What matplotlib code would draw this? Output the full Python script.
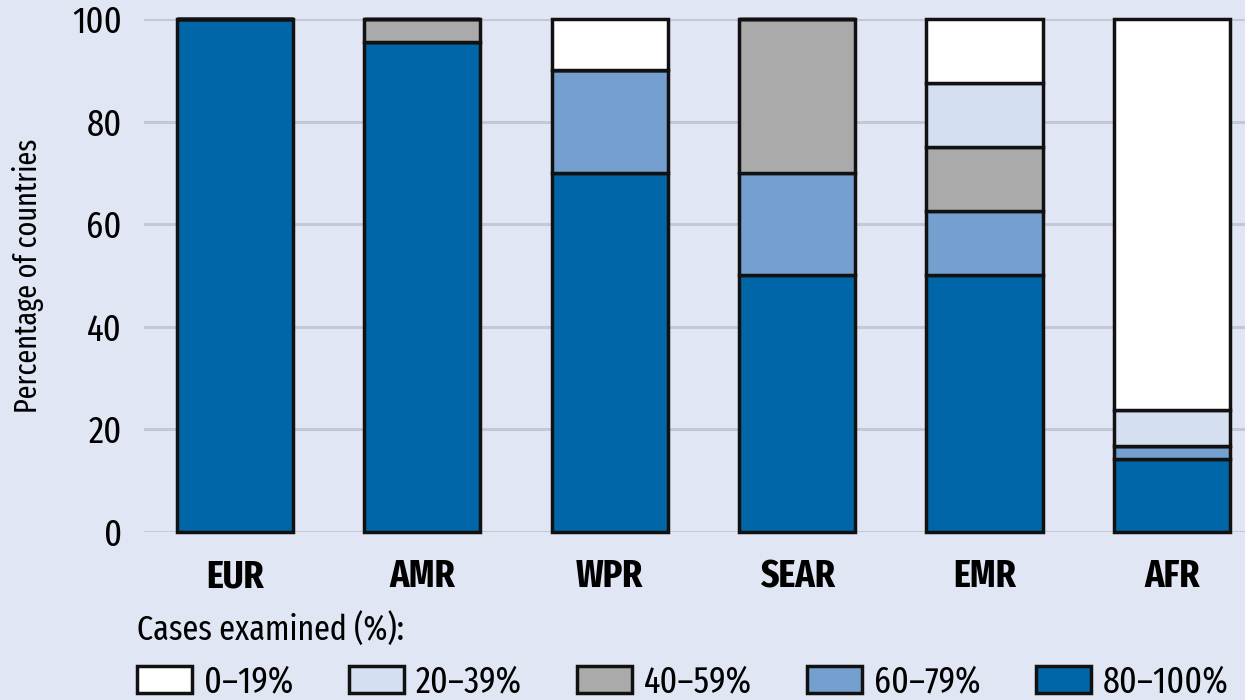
import numpy as np
import matplotlib.pyplot as plt

regions = ['EUR', 'AMR', 'WPR', 'SEAR', 'EMR', 'AFR']
bands = ['80–100%', '60–79%', '40–59%', '20–39%', '0–19%']
# percentage of countries in each band, bottom (80-100%) to top (0-19%)
pct_80_100 = [100.0, 95.5, 70.0, 50.0, 50.0, 14.3]
pct_60_79 = [0.0, 0.0, 20.0, 20.0, 12.5, 2.4]
pct_40_59 = [0.0, 4.5, 0.0, 30.0, 12.5, 0.0]
pct_20_39 = [0.0, 0.0, 0.0, 0.0, 12.5, 7.1]
pct_0_19 = [0.0, 0.0, 10.0, 0.0, 12.5, 76.2]
yticks = [0, 20, 40, 60, 80, 100]

colors = ['#0066a8', '#749fcf', '#aaaaaa', '#d5dff2', '#ffffff']
bg = '#e1e6f5'

plt.rcParams['font.family'] = ['Fira Sans Extra Condensed', 'Roboto Condensed', 'DejaVu Sans']

fig = plt.figure(figsize=(12.45, 7), dpi=100, facecolor=bg)
ax = fig.add_axes([0.1157, 0.24, 0.8843, 0.733])
ax.set_facecolor(bg)

x = np.arange(len(regions))
series = [pct_80_100, pct_60_79, pct_40_59, pct_20_39, pct_0_19]
bottom = np.zeros(len(regions))
handles = []
for vals, col, lab in zip(series, colors, bands):
    vals = np.array(vals)
    b = ax.bar(x, vals, 0.62, bottom=bottom, color=col, edgecolor='#111111',
               linewidth=2.5, label=lab, zorder=3, clip_on=False)
    handles.append(b)
    bottom += vals

ax.set_xlim(-0.485, 5.39)
ax.set_ylim(0, 100)
ax.set_yticks(yticks)
ax.set_xticks(x)
ax.set_xticklabels(regions, fontsize=28, fontweight='bold')
ax.tick_params(axis='y', length=0, pad=16, labelsize=27)
ax.tick_params(axis='x', length=0, pad=19)
ax.grid(axis='y', color='#c6c7d4', linewidth=2.2, zorder=0)
ax.set_axisbelow(True)
for s in ax.spines.values():
    s.set_visible(False)
ax.set_ylabel('Percentage of countries', fontsize=22, labelpad=20)

# legend in low-to-high order
leg = fig.legend(handles[::-1], bands[::-1], ncol=5, loc='lower left',
                 bbox_to_anchor=(0.110, 0.001), frameon=False, fontsize=26.5,
                 title='Cases examined (%):', title_fontsize=25,
                 alignment='left', handlelength=1.5, handleheight=0.75,
                 handletextpad=0.32, columnspacing=1.5, borderaxespad=0,
                 borderpad=0, labelspacing=0.45)

fig.savefig('out.png', dpi=100, facecolor=bg)
